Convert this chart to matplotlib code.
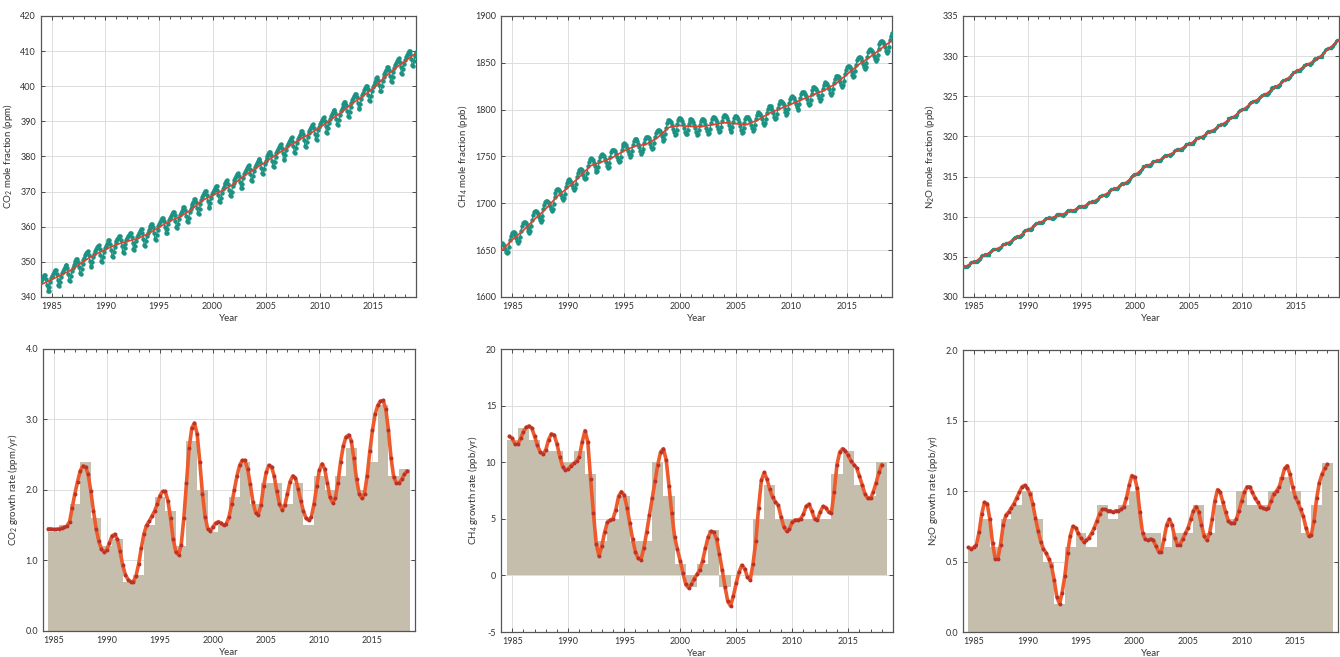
import numpy as np
import matplotlib
matplotlib.use('Agg')
import matplotlib.pyplot as plt

plt.rcParams['font.family'] = ['Lato', 'DejaVu Sans']
plt.rcParams['mathtext.default'] = 'regular'

# ---- top row: deseasonalised trend (Jan 1 of each year) and mean seasonal cycle (Jan..Dec)
trend_years = list(range(1984, 2020))
co2_trend = [343.5, 345.0, 346.4, 348.0, 350.2, 352.0, 353.5, 354.9, 355.8, 356.6,
             358.0, 359.8, 361.6, 362.9, 364.8, 367.4, 368.9, 370.4, 372.2, 374.6,
             376.6, 378.5, 380.6, 382.6, 384.6, 386.3, 388.2, 390.4, 392.5, 395.0,
             397.1, 399.4, 402.4, 405.0, 407.2, 409.5]
co2_cycle = [0.9, 1.4, 1.8, 2.2, 2.1, 1.0, -0.8, -2.6, -3.0, -1.8, -0.5, 0.4]

ch4_trend = [1649, 1661, 1671, 1683, 1694, 1707, 1717, 1728, 1740, 1744,
             1749, 1756, 1761, 1763, 1770, 1781, 1783, 1782, 1782, 1784,
             1786, 1785, 1784, 1789, 1796, 1801, 1806, 1811, 1816, 1821,
             1828, 1838, 1848, 1856, 1865, 1874]
ch4_cycle = [8, 7, 5, 2, -2, -6, -9, -8, -4, 2, 6, 8]

n2o_trend = [303.7, 304.3, 305.2, 305.9, 306.6, 307.4, 308.3, 309.2, 309.8, 310.2,
             310.7, 311.2, 311.8, 312.6, 313.4, 314.1, 315.2, 316.3, 316.9, 317.6,
             318.3, 319.0, 319.8, 320.6, 321.4, 322.3, 323.3, 324.3, 325.1, 326.1,
             327.0, 328.1, 328.9, 329.7, 330.9, 332.0]
n2o_cycle = [0.1, 0.0, -0.1, -0.2, -0.2, -0.1, 0.0, 0.1, 0.2, 0.2, 0.1, 0.1]

# ---- bottom row: annual increases (bars) and smoothed growth rate (quarterly)
bar_years = list(range(1985, 2019))
co2_bars = [1.4, 1.5, 1.8, 2.4, 1.6, 1.2, 1.3, 0.7, 0.8, 1.5,
            1.9, 1.7, 1.2, 2.7, 2.0, 1.4, 1.5, 1.9, 2.4, 1.8,
            2.1, 2.1, 1.8, 2.1, 1.5, 2.2, 2.0, 2.2, 2.6, 2.0,
            2.4, 3.2, 2.2, 2.3]
ch4_bars = [12, 13, 12, 11, 11, 10, 11, 9, 3, 5,
            7, 3, 3, 10, 7, 1, -1, 1, 4, -1,
            0, 0, 5, 8, 5, 5, 5, 5, 5, 9,
            11, 8, 7, 10]
n2o_bars = [0.6, 0.8, 0.6, 0.8, 0.9, 1.0, 0.8, 0.5, 0.2, 0.6,
            0.7, 0.6, 0.9, 0.8, 0.9, 1.0, 0.7, 0.7, 0.6, 0.7,
            0.7, 0.9, 0.7, 0.9, 0.8, 1.0, 0.9, 0.9, 1.0, 1.1,
            1.0, 0.7, 0.9, 1.2]

co2_rate_start = 1984.5
co2_rate = [1.45, 1.45, 1.44, 1.44, 1.45, 1.46, 1.47, 1.49, 1.55, 1.75,
            1.95, 2.12, 2.27, 2.34, 2.33, 2.22, 1.98, 1.70, 1.45, 1.27,
            1.16, 1.12, 1.15, 1.25, 1.35, 1.37, 1.30, 1.13, 0.93, 0.80,
            0.73, 0.70, 0.70, 0.78, 0.95, 1.18, 1.38, 1.50, 1.56, 1.63,
            1.70, 1.80, 1.92, 1.98, 1.98, 1.85, 1.60, 1.30, 1.12, 1.08,
            1.22, 1.60, 2.10, 2.60, 2.88, 2.95, 2.80, 2.40, 1.95, 1.62,
            1.45, 1.42, 1.48, 1.53, 1.55, 1.53, 1.50, 1.52, 1.62, 1.80,
            2.00, 2.20, 2.35, 2.42, 2.42, 2.30, 2.08, 1.83, 1.68, 1.65,
            1.78, 2.05, 2.25, 2.35, 2.33, 2.20, 1.98, 1.80, 1.72, 1.78,
            1.95, 2.12, 2.20, 2.17, 2.02, 1.85, 1.70, 1.60, 1.57, 1.62,
            1.80, 2.05, 2.28, 2.37, 2.30, 2.10, 1.90, 1.82, 1.88, 2.10,
            2.40, 2.62, 2.75, 2.78, 2.70, 2.45, 2.15, 1.95, 1.88, 1.95,
            2.20, 2.55, 2.85, 3.08, 3.20, 3.26, 3.27, 3.15, 2.85, 2.45,
            2.18, 2.10, 2.10, 2.15, 2.22, 2.27]

ch4_rate_start = 1984.75
ch4_rate = [12.3, 12.1, 11.6, 11.6, 12.1, 12.7, 13.1, 13.2, 13.0, 12.3,
            11.5, 10.9, 10.7, 11.1, 12.0, 12.5, 12.4, 11.6, 10.5, 9.6,
            9.3, 9.4, 9.7, 9.9, 10.1, 10.5, 11.8, 12.8, 11.8, 8.5,
            5.5, 2.8, 1.7, 2.6, 3.8, 4.7, 4.9, 5.0, 5.8, 7.0,
            7.4, 7.1, 6.0, 4.6, 3.2, 2.1, 1.5, 1.4, 2.4, 3.8,
            5.3, 6.8, 8.3, 9.8, 10.9, 11.2, 10.2, 7.9, 5.5, 3.4,
            2.3, 1.3, 0.2, -0.8, -1.1, -0.8, -0.3, 0.1, 0.5, 1.3,
            2.4, 3.4, 3.9, 3.8, 3.2, 1.9, 0.5, -1.0, -2.3, -2.7,
            -1.8, -0.7, 0.3, 0.9, 0.6, -0.1, -0.4, 1.0, 3.0, 6.0,
            8.4, 9.1, 8.5, 7.6, 6.9, 6.5, 6.2, 5.2, 4.3, 3.9,
            4.1, 4.7, 4.9, 4.9, 5.0, 5.4, 6.1, 6.3, 5.7, 5.0,
            4.9, 5.6, 6.1, 6.0, 5.6, 5.5, 7.4, 9.8, 10.9, 11.2,
            11.0, 10.6, 10.1, 9.8, 9.5, 8.8, 8.0, 7.2, 6.8, 6.8,
            7.4, 8.2, 9.1, 9.8]

n2o_rate_start = 1984.5
n2o_rate = [0.60, 0.59, 0.60, 0.62, 0.71, 0.84, 0.92, 0.91, 0.80, 0.63,
            0.52, 0.52, 0.62, 0.76, 0.83, 0.85, 0.88, 0.91, 0.95, 0.99,
            1.03, 1.04, 1.02, 0.98, 0.91, 0.81, 0.72, 0.64, 0.59, 0.56,
            0.52, 0.47, 0.37, 0.25, 0.20, 0.28, 0.40, 0.56, 0.68, 0.75,
            0.74, 0.70, 0.67, 0.64, 0.65, 0.67, 0.70, 0.74, 0.79, 0.84,
            0.87, 0.87, 0.86, 0.86, 0.85, 0.86, 0.86, 0.87, 0.89, 0.95,
            1.04, 1.11, 1.10, 1.02, 0.85, 0.70, 0.66, 0.65, 0.66, 0.65,
            0.61, 0.57, 0.57, 0.66, 0.76, 0.80, 0.76, 0.67, 0.62, 0.62,
            0.66, 0.70, 0.74, 0.80, 0.86, 0.89, 0.85, 0.76, 0.68, 0.65,
            0.70, 0.80, 0.93, 1.01, 0.99, 0.92, 0.85, 0.79, 0.77, 0.77,
            0.80, 0.86, 0.93, 0.99, 1.03, 1.03, 0.99, 0.95, 0.92, 0.89,
            0.88, 0.87, 0.88, 0.93, 0.98, 1.00, 1.03, 1.09, 1.16, 1.18,
            1.12, 1.03, 0.96, 0.92, 0.87, 0.82, 0.74, 0.68, 0.69, 0.79,
            0.95, 1.06, 1.12, 1.16, 1.19]

TEAL = '#1c9282'
RED = '#e2402f'
ORANGE = '#ef5a2c'
DOT = '#b8332a'
TAN = '#c6beac'
TXT = '#333333'

fig = plt.figure(figsize=(13.4, 6.57), dpi=100)


def style(ax, ylim, yticks, fmt):
    ax.set_xlim(1984, 2019)
    ax.set_ylim(*ylim)
    ax.set_xticks(range(1985, 2019, 5))
    ax.set_xticks(range(1984, 2020), minor=True)
    ax.set_yticks(yticks)
    ax.set_yticklabels([fmt.format(v) for v in yticks])
    ax.tick_params(which='both', direction='in', top=True, right=True,
                   labelsize=6.5, colors=TXT, length=3, width=0.6)
    ax.tick_params(which='minor', length=2)
    ax.grid(True, color='#dddddd', lw=0.7)
    ax.set_axisbelow(True)
    for s in ax.spines.values():
        s.set_color('#555555')
        s.set_linewidth(0.9)
    ax.set_xlabel('Year', fontsize=7, color=TXT, labelpad=2)


def top_panel(rect, trend, cycle, ylim, yticks, ylabel, ms):
    ax = fig.add_axes(rect)
    months = np.arange(1984, 2019, 1 / 12) + 1 / 24
    base = np.interp(months, trend_years, trend)
    vals = base + np.tile(cycle, len(months) // 12)
    ax.plot(months, vals, '-o', color=TEAL, ms=ms, lw=0.9, zorder=3)
    ax.plot(trend_years, trend, color=RED, lw=1.2, zorder=4)
    style(ax, ylim, yticks, '{:.0f}')
    ax.set_ylabel(ylabel, fontsize=7, color=TXT, labelpad=4)
    return ax


def bottom_panel(rect, bars, rate, start, ylim, yticks, fmt, ylabel):
    ax = fig.add_axes(rect)
    ax.bar(bar_years, bars, width=1.0, color=TAN, edgecolor='none', zorder=2)
    xr = start + 0.25 * np.arange(len(rate))
    ax.plot(xr, rate, color=ORANGE, lw=2.6, zorder=3, solid_capstyle='round')
    ax.plot(xr, rate, 'o', color=DOT, ms=1.8, zorder=4)
    style(ax, ylim, yticks, fmt)
    ax.set_ylabel(ylabel, fontsize=7, color=TXT, labelpad=4)
    return ax


top_panel([0.0306, 0.548, 0.280, 0.4277], co2_trend, co2_cycle, (340, 420),
          range(340, 421, 10), 'CO$_2$ mole fraction (ppm)', 2.2)
top_panel([0.3739, 0.548, 0.2918, 0.4277], ch4_trend, ch4_cycle, (1600, 1900),
          range(1600, 1901, 50), 'CH$_4$ mole fraction (ppb)', 2.2)
top_panel([0.7187, 0.548, 0.2806, 0.4277], n2o_trend, n2o_cycle, (300, 335),
          range(300, 336, 5), 'N$_2$O mole fraction (ppb)', 1.4)

bottom_panel([0.0321, 0.0396, 0.2776, 0.4292], co2_bars, co2_rate, co2_rate_start,
             (0, 4), [0, 1, 2, 3, 4], '{:.1f}', 'CO$_2$ growth rate (ppm/yr)')
bottom_panel([0.3739, 0.038, 0.2925, 0.4307], ch4_bars, ch4_rate, ch4_rate_start,
             (-5, 20), [-5, 0, 5, 10, 15, 20], '{:.0f}', 'CH$_4$ growth rate (ppb/yr)')
bottom_panel([0.7187, 0.038, 0.2799, 0.4292], n2o_bars, n2o_rate, n2o_rate_start,
             (0, 2), [0, 0.5, 1.0, 1.5, 2.0], '{:.1f}', 'N$_2$O growth rate (ppb/yr)')

fig.savefig('out.png', dpi=100)
